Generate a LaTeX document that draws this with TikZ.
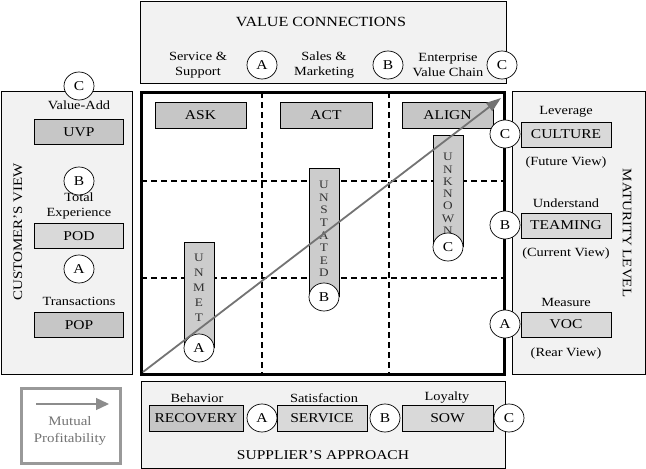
\documentclass[tikz,border=0pt]{standalone}
\usepackage{fontspec}
\setmainfont{Liberation Serif}[FakeStretch=1.15]
\usetikzlibrary{arrows.meta,shapes.geometric}
\begin{document}
\begin{tikzpicture}[x=1pt,y=-1pt,
  panel/.style={draw=black, line width=0.9pt, fill=gray!10},
  lblbox/.style={draw=black, line width=0.8pt, fill=gray!45, minimum height=26pt, inner sep=0pt, font=\fontsize{13.5}{15}\selectfont},
  lightbox/.style={lblbox, fill=gray!30},
  badge/.style={ellipse, draw=black, line width=0.7pt, fill=white, minimum width=30pt, minimum height=28pt, inner sep=0pt, font=\fontsize{13.5}{15}\selectfont},
  small/.style={font=\fontsize{12.5}{15}\selectfont, align=center, inner sep=0pt},
  pillar/.style={draw=black, line width=0.7pt, fill=gray!40},
  vletter/.style={inner sep=0pt, text=black!80, font=\fontsize{11.5}{13}\selectfont},
  grid/.style={line width=1.5pt, dash pattern=on 6pt off 4pt},
  ptitle/.style={font=\fontsize{14}{16}\selectfont, inner sep=0pt}
]
\useasboundingbox (0,0) rectangle (646,469);

% panels
\draw[panel] (140,1) rectangle (506,83);
\draw[panel] (1,91) rectangle (132,374);
\draw[panel] (512,91) rectangle (645,374);
\draw[panel] (141,381) rectangle (505,468);

% mutual profitability legend
\draw[draw=black!40, line width=3pt, fill=white] (21,388) rectangle (120,463);
\coordinate (mA) at (36,404);
\coordinate (mB) at (109,404);
\draw[black!45, line width=1.3pt, -{Triangle[length=13pt,width=12pt]}] (mA) -- (mB);
\node[small, text=black!55, font=\fontsize{13}{17}\selectfont] (mut) at (70,431) {Mutual\\Profitability};

% main grid box
\draw[line width=3pt, fill=white] (141,92) rectangle (504,374);
\draw[grid] (262,92) -- (262,374);
\draw[grid] (389,92) -- (389,374);
\draw[grid] (141,181) -- (504,181);
\draw[grid] (141,278) -- (504,278);

% top panel
\node[ptitle] (vc) at (321,22) {VALUE CONNECTIONS};
\node[small] (ss) at (198,65) {Service \&\\Support};
\node[small] (sm) at (324,65) {Sales \&\\Marketing};
\node[small] (ev) at (448,65) {Enterprise\\Value Chain};
\node[badge] (tA) at (262,65) {A};
\node[badge] (tB) at (388,65) {B};
\node[badge] (tC) at (502,65) {C};

% header boxes
\node[lblbox, minimum width=91pt] (ask) at (200.5,115.5) {ASK};
\node[lblbox, minimum width=92pt] (act) at (326,115.5) {ACT};
\node[lblbox, minimum width=91pt] (align) at (447.5,115.5) {ALIGN};

% pillars
\draw[pillar] (184,348) -- (184,242) -- (214,242) -- (214,348);
\foreach \l [count=\i] in {U,N,M,E,T}
  \node[vletter] (unmet\i) at (199,{258+(\i-1)*15}) {\l};
\node[badge] (pA) at (199,348) {A};

\draw[pillar] (309,297) -- (309,168) -- (339,168) -- (339,297);
\foreach \l [count=\i] in {U,N,S,T,A,T,E,D}
  \node[vletter] (unst\i) at (324,{185+(\i-1)*12.6}) {\l};
\node[badge] (pB) at (324,297) {B};

\draw[pillar] (433,247) -- (433,135) -- (463,135) -- (463,247);
\foreach \l [count=\i] in {U,N,K,N,O,W,N}
  \node[vletter] (unkn\i) at (448,{157+(\i-1)*12.3}) {\l};
\node[badge] (pC) at (448,247) {C};

% left panel
\node[font=\fontsize{13}{15}\selectfont, rotate=90, inner sep=0pt] (cv) at (18,232) {CUSTOMER’S VIEW};
\node[badge] (lC) at (79,86) {C};
\node[small] (va) at (79,105) {Value-Add};
\node[lblbox, minimum width=89pt, minimum height=25pt] (uvp) at (79,132) {UVP};
\node[badge] (lB) at (79,181) {B};
\node[small] (te) at (79,206) {Total\\Experience};
\node[lightbox, minimum width=89pt, minimum height=25pt] (pod) at (79,236) {POD};
\node[badge] (lA) at (79,269) {A};
\node[small] (tr) at (79,301) {Transactions};
\node[lblbox, minimum width=89pt, minimum height=25pt] (pop) at (79,325) {POP};

% right panel
\node[font=\fontsize{13}{15}\selectfont, rotate=-90, inner sep=0pt] (ml) at (627,233) {MATURITY LEVEL};
\node[small] (lev) at (566,112) {Leverage};
\node[lightbox, minimum width=90pt, minimum height=25pt] (cul) at (566,134.5) {CULTURE};
\node[small] (fv) at (566,162) {(Future View)};
\node[small] (und) at (566,203) {Understand};
\node[lightbox, minimum width=90pt, minimum height=25pt] (team) at (566,225.5) {TEAMING};
\node[small] (cuv) at (566,253) {(Current View)};
\node[small] (mea) at (566,302) {Measure};
\node[lightbox, minimum width=90pt, minimum height=25pt] (voc) at (566,324.5) {VOC};
\node[small] (rv) at (566,353) {(Rear View)};
\node[badge] (rC) at (505,134) {C};
\node[badge] (rB) at (505,225) {B};
\node[badge] (rA) at (505,324) {A};

% bottom panel
\node[small] (beh) at (197,398) {Behavior};
\node[small] (sat) at (324,398) {Satisfaction};
\node[small] (loy) at (447,398) {Loyalty};
\node[lblbox, minimum width=94pt] (rec) at (196,418) {RECOVERY};
\node[lightbox, minimum width=90pt] (ser) at (322,418) {SERVICE};
\node[lightbox, minimum width=91pt] (sow) at (447.5,418) {SOW};
\node[badge] (bA) at (262,418) {A};
\node[badge] (bB) at (385,418) {B};
\node[badge] (bC) at (509,418) {C};
\node[ptitle, font=\fontsize{13.5}{16}\selectfont] (sa) at (323,455) {SUPPLIER’S APPROACH};

% main arrow
\coordinate (arS) at (143,372);
\coordinate (arE) at (501,98);
\draw[black!55, line width=1.8pt, -{Triangle[length=15pt,width=10pt]}] (arS) -- (arE);
\end{tikzpicture}
\end{document}
